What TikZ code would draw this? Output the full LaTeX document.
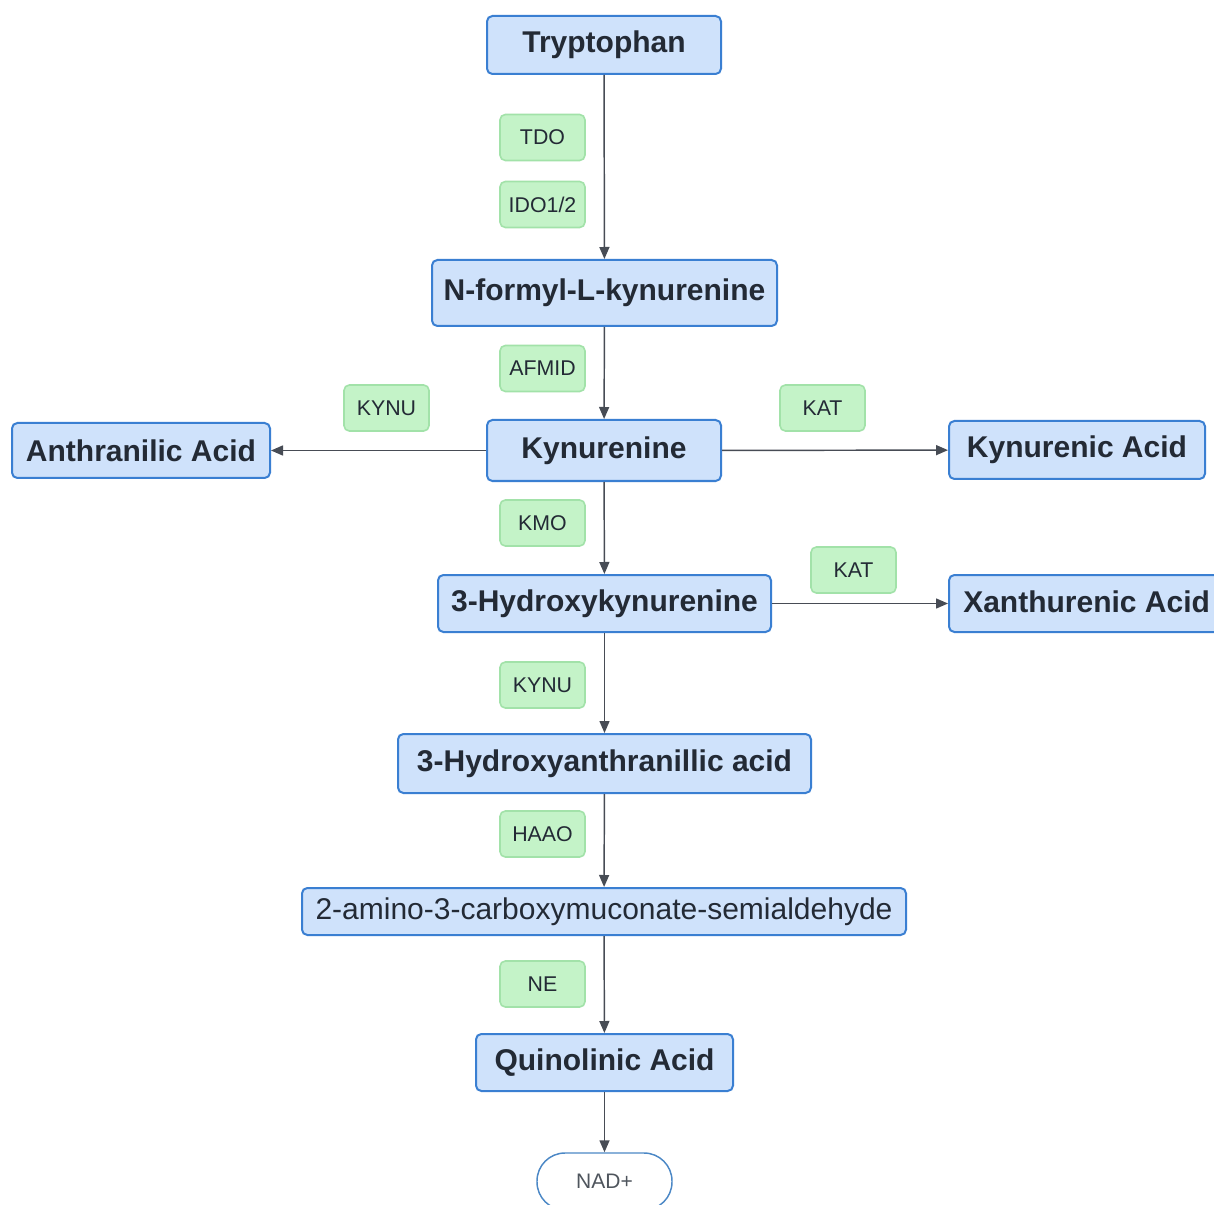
\documentclass[tikz,border=0pt]{standalone}
\usepackage{fontspec}
\setmainfont{Liberation Sans}
\usetikzlibrary{arrows.meta}
\definecolor{molfill}{HTML}{CFE2FB}
\definecolor{moldraw}{HTML}{3A7FD2}
\definecolor{enzfill}{HTML}{C4F3C8}
\definecolor{enzdraw}{HTML}{A2E2A9}
\definecolor{txt}{HTML}{232A35}
\definecolor{arr}{HTML}{474C55}
\definecolor{nadline}{HTML}{4C88C6}
\tikzset{
  mol/.style={draw=moldraw, fill=molfill, line width=1.5pt, rounded corners=4pt,
    inner sep=0pt, text=txt, font=\fontsize{22.5}{26}\selectfont\bfseries},
  molreg/.style={mol, font=\fontsize{22.5}{26}\selectfont},
  enz/.style={draw=enzdraw, fill=enzfill, line width=1.2pt, rounded corners=4pt,
    inner sep=0pt, minimum width=63.75pt, minimum height=34.5pt, text=txt,
    font=\fontsize{16}{19}\selectfont},
  conn/.style={draw=arr, line width=1.1pt, -{Triangle[length=9pt,width=7.5pt]}},
}
\begin{document}
\begin{tikzpicture}[x=0.75pt,y=-0.75pt]
\clip (0,0) rectangle (1214,1205);
\fill[white] (0,0) rectangle (1214,1205);
% molecules
\node[mol, minimum width=234*0.75pt, minimum height=58*0.75pt] (trp) at (604,45) {Tryptophan};
\node[mol, minimum width=345*0.75pt, minimum height=66*0.75pt] (nfk) at (604.5,293) {N-formyl-L-kynurenine};
\node[mol, minimum width=234*0.75pt, minimum height=61*0.75pt] (kyn) at (604,450.5) {Kynurenine};
\node[mol, minimum width=258*0.75pt, minimum height=55*0.75pt] (ant) at (141,450.5) {Anthranilic Acid};
\node[mol, minimum width=256*0.75pt, minimum height=58*0.75pt] (kna) at (1077,450) {Kynurenic Acid};
\node[mol, minimum width=333*0.75pt, minimum height=57*0.75pt] (hk) at (604.5,603.5) {3-Hydroxykynurenine};
\node[mol, minimum width=280*0.75pt, minimum height=57*0.75pt] (xa) at (1089,603.5) {};
\node[anchor=west, inner sep=0pt, text=txt, font=\fontsize{22.5}{26}\selectfont\bfseries] (xat) at (963,601.5) {Xanthurenic Acid};
\node[mol, minimum width=413*0.75pt, minimum height=59*0.75pt] (haa) at (604.5,763.5) {3-Hydroxyanthranillic acid};
\node[molreg, minimum width=604*0.75pt, minimum height=47*0.75pt] (acms) at (604,911.5) {2-amino-3-carboxymuconate-semialdehyde};
\node[mol, minimum width=257*0.75pt, minimum height=57*0.75pt] (qa) at (604.5,1062.5) {Quinolinic Acid};
\node[draw=nadline, fill=white, line width=1.1pt, rounded corners=28*0.75pt,
  minimum width=135*0.75pt, minimum height=57*0.75pt, inner sep=0pt,
  text=txt!80, font=\fontsize{15.75}{19}\selectfont] (nad) at (604.5,1181.5) {NAD+};
% enzymes
\node[enz] (tdo) at (542.5,137.5) {TDO};
\node[enz] (ido) at (542.5,204.5) {IDO1/2};
\node[enz] (afmid) at (542.5,368.5) {AFMID};
\node[enz] (kynu1) at (386.5,408) {KYNU};
\node[enz] (kat1) at (822.5,408) {KAT};
\node[enz] (kmo) at (542.5,523) {KMO};
\node[enz] (kat2) at (853.5,570) {KAT};
\node[enz] (kynu2) at (542.5,685) {KYNU};
\node[enz] (haao) at (542.5,834) {HAAO};
\node[enz] (ne) at (542.5,984) {NE};
% connectors
\draw[conn] (trp) -- (nfk);
\draw[conn] (nfk) -- (kyn);
\draw[conn] (kyn) -- (ant);
\draw[conn] (kyn) -- (kna);
\draw[conn] (kyn) -- (hk);
\draw[conn] (hk.east) -- (xa.west |- hk.east);
\draw[conn] (hk) -- (haa);
\draw[conn] (haa) -- (acms);
\draw[conn] (acms) -- (qa);
\draw[conn] (qa) -- (nad);
\end{tikzpicture}
\end{document}
